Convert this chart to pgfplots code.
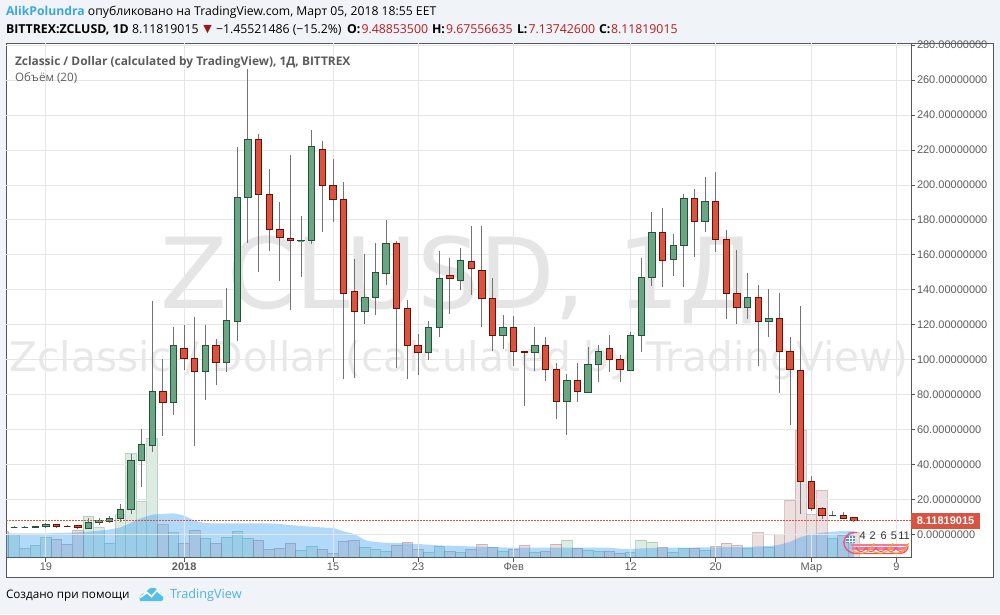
\documentclass[border=0pt]{standalone}
\usepackage{pgfplots}
\pgfplotsset{compat=1.18}
\usepgfplotslibrary{statistics}
\usepackage{fontspec}
\setmainfont{Open Sans}
\newfontfamily\arial{Liberation Sans}
\newfontfamily\dejavu{DejaVu Sans}
\definecolor{pagebg}{HTML}{F0F3F7}
\definecolor{frame}{HTML}{555759}
\definecolor{gridc}{HTML}{E6E6E6}
\definecolor{upfill}{HTML}{6BA583}
\definecolor{upline}{HTML}{225437}
\definecolor{dnfill}{HTML}{D75442}
\definecolor{dnline}{HTML}{6B1003}
\definecolor{wick}{HTML}{737375}
\definecolor{txtred}{HTML}{B71C1C}
\definecolor{tvblue}{HTML}{3BA8E0}
\definecolor{txtgrey}{HTML}{5C5C5C}
\definecolor{volup}{HTML}{6BA583}
\definecolor{voldn}{HTML}{A06060}
\definecolor{maarea}{HTML}{2196F3}
\definecolor{flagred}{HTML}{F0506E}
\definecolor{flagor}{HTML}{F5A623}
\definecolor{flagbl}{HTML}{4A90D9}
\definecolor{logoc}{HTML}{55BFE8}
\pgfplotstableread{
d h
-3 23.7
-2 9.7
-1 12.7
0 20.7
4 41.7
5 30.3
6 14.7
7 43
8 104.7
9 56
10 119.7
12 25
15 19.7
17 20.7
18 26.7
19 19.7
24 7.7
25 11.7
30 10.7
31 8.7
32 6.7
36 5.7
37 11.7
39 5.7
43 6.7
46 5.7
49 17.7
51 7.7
52 6.7
55 5.7
56 17.7
57 15.7
59 5.7
60 9.7
62 7.7
66 9.3
68 10.7
74 19.3
}\volup
\pgfplotstableread{
d h
-4 26
1 18.7
2 13.7
3 27.7
11 33
13 14.7
14 27.7
16 14.7
20 17.7
21 8.7
22 9.7
23 14.7
26 8.7
27 4.7
28 16.7
29 17.7
33 12.7
34 15.7
35 8.7
38 6.7
40 8.7
41 13.7
42 10.7
44 8.7
45 12.7
47 6.7
48 13.7
50 9.7
53 6.7
54 4.7
58 10.7
61 9.7
63 11.7
64 14.7
65 12.7
67 25
69 23.3
70 57.3
71 127.3
72 43.3
73 67.3
75 22.3
76 25
}\voldn
\pgfplotstableread{
d h
-4 24.3
-3 24.3
-2 24.3
-1 24.3
0 24.3
1 24.6
2 25
3 25.5
4 26
5 27
6 28.3
7 30.3
8 35
9 39.7
10 43
11 43.7
12 44.3
13 42
14 37
15 34.7
16 34.3
17 34.3
18 34.3
19 34.3
20 34.3
21 34.3
22 33.7
23 32.7
24 31.7
25 31
26 30.3
27 29.7
28 26.3
29 23.7
30 17.7
31 15.7
32 15
33 14.7
34 14.3
35 13.7
36 13
37 12.3
38 12
39 11.7
40 11.3
41 11
42 10.7
43 10.3
44 10
45 10
46 10
47 10
48 10
49 10
50 10
51 10
52 10
53 10
54 9
55 8.7
56 9.3
57 9.7
58 10
59 10
60 10
61 10.2
62 10.3
63 10.4
64 10.5
65 10.6
66 10.7
67 11.3
68 11.7
69 13
70 16
71 20.7
72 23.3
73 25
74 26
75 26.7
76 27
}\volma
% #1 fill, #2 line, #3 day, #4 low, #5 body bottom, #6 body top, #7 high
\newcommand{\candle}[7]{%
\addplot[forget plot,boxplot prepared={draw direction=y,draw position=#3,lower whisker=#4,lower quartile=#5,median=#5,upper quartile=#6,upper whisker=#7,box extend=0.6,whisker extend=0,
 every box/.style={draw=#2,fill=#1,line width=1pt},every whisker/.style={draw=wick,line width=1pt},every median/.style={draw=none}}] coordinates {};}
\newcommand{\U}[5]{\candle{upfill}{upline}{#1}{#2}{#3}{#4}{#5}}
\newcommand{\D}[5]{\candle{dnfill}{dnline}{#1}{#2}{#3}{#4}{#5}}
\begin{document}
\begin{tikzpicture}[x=1pt,y=-1pt,inner sep=0pt,outer sep=0pt]
\useasboundingbox (0,0) rectangle (1000,614);
\fill[pagebg] (0,0) rectangle (1000,614);
\filldraw[fill=white,draw=frame,line width=1pt] (6.5,43.5) rectangle (993,577);
% watermark
\node[text=black!10,anchor=center] at (458,280) {\dejavu\fontsize{98}{110}\selectfont ZCLUSD, 1Д};
\node[text=black!9,anchor=center] at (459,360) {\dejavu\fontsize{40.7}{44}\selectfont Zclassic / Dollar (calculated by TradingView)};
\coordinate (A) at (6,557.7);
% volume
\begin{axis}[scale only axis,width=905pt,height=514.7pt,at={(A)},anchor=south west,
 xmin=-3.76,xmax=81.37,ymin=0,ymax=514.7,hide axis]
\addplot[ybar,bar width=10.63pt,bar shift=0pt,fill=volup,fill opacity=.22,draw=volup,draw opacity=.4,line width=1pt] table[x=d,y=h] {\volup};
\addplot[ybar,bar width=10.63pt,bar shift=0pt,fill=voldn,fill opacity=.2,draw=voldn,draw opacity=.35,line width=1pt] table[x=d,y=h] {\voldn};
\addplot[fill=maarea,fill opacity=.35,draw=none,smooth,tension=.3] table[x=d,y=h] {\volma} \closedcycle;
\end{axis}
% price
\begin{axis}[scale only axis,width=905pt,height=514.7pt,at={(A)},anchor=south west,
 xmin=-3.76,xmax=81.37,ymin=-13.28,ymax=281.26,clip=true,
 axis x line*=bottom,axis y line*=right,axis line style={draw=frame,line width=1pt},
 tick align=outside,major tick length=4pt,tick style={draw=frame,line width=1pt},
 grid=major,grid style={gridc,line width=1pt},
 xtick={0,13,27,35,44,55,63,72,80},
 xticklabels={19,\textbf{2018},15,23,Фев,12,20,Мар,9},
 ytick={0,20,...,280},
 x tick label style={font=\arial\fontsize{11}{12}\selectfont,text=txtgrey,yshift=-1pt},
 y tick label style={font=\arial\fontsize{11}{12}\selectfont,text=txtgrey,xshift=2pt},
 yticklabel style={/pgf/number format/.cd,fixed,fixed zerofill,precision=8,1000 sep={},assume math mode=true},
 scaled y ticks=false]
\U{-3}{3.9}{4.2}{4.2}{4.9}
\U{-2}{3.8}{4.2}{4.2}{4.7}
\U{-1}{4.0}{4.0}{4.75}{4.9}
\U{0}{3.8}{4.6}{5.9}{6.5}
\D{1}{3.9}{4.6}{5.9}{6.1}
\D{2}{4.2}{4.75}{4.75}{5.2}
\D{3}{2.9}{4.0}{4.9}{5.2}
\U{4}{3.4}{3.4}{7.0}{9.3}
\U{5}{5.7}{6.8}{7.8}{9.3}
\U{6}{6.8}{7.6}{9.3}{10.7}
\U{7}{7.2}{9.1}{14.5}{17.5}
\U{8}{12}{14.3}{42.6}{46.2}
\U{9}{27.4}{42.4}{51.3}{60.3}
\U{10}{47.4}{51.1}{81.6}{133.7}
\D{11}{56.6}{75.7}{81.6}{100.7}
\U{12}{68.6}{75.7}{107.9}{118.5}
\D{13}{94}{100.9}{106.2}{120.1}
\D{14}{50.5}{93.4}{100.5}{124.2}
\U{15}{77.2}{93.4}{107.9}{120.1}
\D{16}{85.8}{98.7}{107.9}{111.6}
\U{17}{92.9}{98.7}{122.3}{141.1}
\U{18}{110.7}{122.1}{192.6}{221.8}
\U{19}{166.6}{192.6}{225.8}{266.1}
\D{20}{150.1}{194.3}{225.8}{229.4}
\D{21}{162.1}{174.4}{194.3}{209.4}
\D{22}{144.9}{169.7}{174.4}{190}
\D{23}{128.4}{168}{169.6}{217.4}
\U{24}{147.3}{168}{168.1}{182}
\U{25}{166.1}{168}{221.8}{231.7}
\D{26}{172.9}{199.5}{220.1}{224.9}
\D{27}{178.7}{191.5}{199.5}{215.1}
\D{28}{88.8}{138.2}{191.5}{201.7}
\D{29}{89.4}{127.9}{138.8}{157.9}
\U{30}{120.3}{127.9}{135.9}{160.7}
\U{31}{125.5}{135.9}{149.7}{167}
\U{32}{142.6}{149.1}{166.8}{180.2}
\D{33}{95.1}{129.1}{166.3}{168.2}
\D{34}{88.9}{107.9}{129.1}{134.4}
\D{35}{91.1}{103.9}{107.9}{115}
\U{36}{100.1}{103.9}{118.2}{121.9}
\U{37}{112.9}{118.2}{146.3}{162.5}
\D{38}{125.9}{146.3}{148}{158.3}
\U{39}{139.7}{145.2}{156.6}{164.2}
\D{40}{137.3}{152}{156}{176.8}
\D{41}{118.6}{134.8}{150.9}{176.3}
\D{42}{105.2}{113.7}{134.8}{146.5}
\U{43}{106.4}{113.7}{118.3}{125.7}
\D{44}{96.3}{104.5}{118.3}{125.1}
\D{45}{73.3}{104.4}{104.5}{104.6}
\U{46}{93.8}{104.4}{107.9}{118.5}
\D{47}{88.1}{94.2}{107.9}{113.3}
\D{48}{65.9}{75.9}{94.2}{98.4}
\U{49}{56.8}{75.9}{87.9}{92.1}
\D{50}{75.7}{81.6}{87.9}{98.4}
\U{51}{81.1}{81.1}{97.1}{107.5}
\U{52}{87.2}{97.1}{105}{108.7}
\D{53}{92.9}{100.4}{106.2}{113.9}
\D{54}{87.2}{94.2}{100.4}{102.9}
\U{55}{93.6}{93.6}{113.7}{115.6}
\U{56}{104.3}{113.7}{146.9}{158.5}
\U{57}{142.4}{146.9}{172.6}{184.8}
\D{58}{141.5}{156.6}{172.6}{187.1}
\U{59}{147.8}{157.1}{165.1}{172.2}
\U{60}{141.5}{165.1}{192}{195.1}
\D{61}{158.6}{178.9}{192}{197.9}
\U{62}{172.9}{178.9}{190.3}{204.8}
\D{63}{161.5}{168.6}{190.3}{207.7}
\D{64}{123.2}{138.2}{168.6}{174.4}
\D{65}{120.3}{129.7}{138.2}{163}
\U{66}{123.2}{129.7}{135.9}{149.9}
\D{67}{96.3}{121.7}{135.9}{143}
\U{68}{112.9}{121.7}{123.4}{140.7}
\D{69}{80.8}{105}{123.4}{138.4}
\D{70}{62.5}{94.2}{105}{112.8}
\D{71}{12}{30.6}{93.6}{131}
\D{72}{13.6}{15.1}{30.1}{33.7}
\D{73}{9.1}{11}{15}{15.6}
\U{74}{10.9}{11}{11.1}{13.5}
\D{75}{9.35}{9.35}{11}{12.6}
\D{76}{7.14}{8.12}{9.49}{9.68}
\addplot[forget plot,dnfill,line width=1pt,dash pattern=on 1.5pt off 1.5pt] coordinates {(-3.76,8.118)(81.37,8.118)};
\end{axis}
% last price label
\node[fill=dnfill,text=white,anchor=west,minimum width=69pt,minimum height=16pt,font=\arial\bfseries\fontsize{11}{12}\selectfont] at (911,521) {8.11819015};
% event marks
\fill[flagred!75] (851,543.5) rectangle (908,546);
\fill[flagred!75] (852,547) rectangle (906,549.5);
\fill[flagbl] (846,536) rectangle (855,543);
\draw[white,line width=.5pt] (849,536)--(849,543) (852,536)--(852,543) (846,538.5)--(855,538.5) (846,541)--(855,541);
\draw[flagred,line width=1.3pt] (857,532.5) .. controls (840,531) and (839,553.5) .. (857,553.5) -- (899,553.5) .. controls (905,553.5) and (908,550) .. (908,546);
\foreach \x in {856,866,876,886,896}
  \draw[flagred,line width=1pt] (\x,547.5) .. controls (\x+2,553) and (\x+8,553) .. (\x+10,547.5);
\foreach \x in {854,873,889}
  \draw[flagor,line width=1pt] (\x,551.5) .. controls (\x+9,555) and (\x+15,553) .. (\x+20,543);
\foreach \x/\t in {862.7/4,872.7/2,883.7/6,894/5,904/11}
  \node[font=\arial\fontsize{11}{12}\selectfont,text=black!80,anchor=center] at (\x,535.7) {\t};
% header
\node[anchor=base west,font=\fontsize{12.2}{14}\selectfont,text=black] at (6,15.3) {\textcolor{tvblue}{\textbf{AlikPolundra}} опубликовано на TradingView.com, Март 05, 2018 18:55 EET};
\tikzset{hd/.style={anchor=base west,font=\fontsize{12.3}{14}\selectfont}}
\node[hd,text=black] at (6,33.3) {\textbf{BITTREX:ZCLUSD, 1D}};
\node[hd,text=black] at (132,33.3) {8.11819015};
\node[text=txtred!85!black,anchor=center,font=\dejavu\fontsize{11}{12}\selectfont] at (207.5,29.5) {▼};
\node[hd,text=black] at (216,33.3) {−1.45521486 (−15.2\%)};
\node[hd,text=black] at (347,33.3) {\textbf{O:}};
\node[hd,text=txtred] at (361.5,33.3) {9.48853500};
\node[hd,text=black] at (432,33.3) {\textbf{H:}};
\node[hd,text=txtred] at (446,33.3) {9.67556635};
\node[hd,text=black] at (517,33.3) {\textbf{L:}};
\node[hd,text=txtred] at (528.5,33.3) {7.13742600};
\node[hd,text=black] at (599,33.3) {\textbf{C:}};
\node[hd,text=txtred] at (611,33.3) {8.11819015};
% chart titles
\node[anchor=base west,font=\bfseries\fontsize{11.9}{14}\selectfont,text=txtgrey] at (15,65) {Zclassic / Dollar (calculated by TradingView), 1Д, BITTREX};
\node[anchor=base west,font=\fontsize{11.6}{14}\selectfont,text=txtgrey] at (15,81.7) {Объём (20)};
% footer
\node[anchor=base west,font=\fontsize{11.7}{14}\selectfont,text=black] at (6,598) {Создано при помощи};
\fill[logoc] (140,601) .. controls (138,596) and (142,593) .. (146,593) .. controls (147,588) and (155,585) .. (158,591) .. controls (163,592) and (165,598) .. (162,601) -- cycle;
\draw[white,line width=1.6pt] (140,597.5)--(147,592.5)--(151.5,596.5)--(157,590.5)--(163.5,596);
\node[anchor=base west,font=\fontsize{12.7}{16}\selectfont,text=tvblue!90!white] at (170,598) {TradingView};
\end{tikzpicture}
\end{document}
